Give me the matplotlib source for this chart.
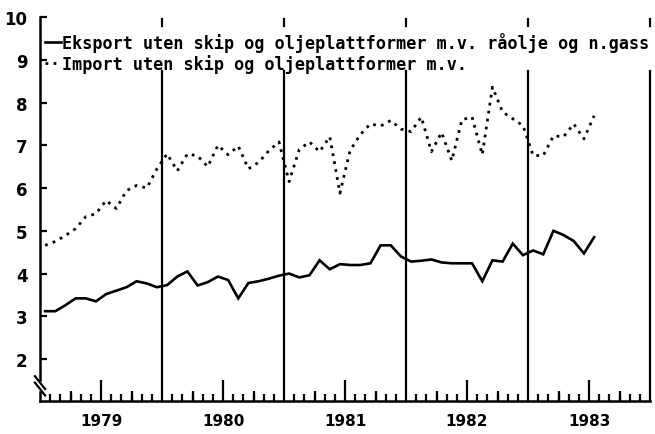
import numpy as np
import matplotlib.pyplot as plt

years = ['1979', '1980', '1981', '1982', '1983']
# monthly values, Jan 1979 - Jul 1983
export = [3.12, 3.12, 3.26, 3.42, 3.42, 3.35, 3.52, 3.60, 3.68, 3.82, 3.77, 3.68,
          3.73, 3.93, 4.05, 3.72, 3.80, 3.93, 3.85, 3.42, 3.78, 3.82, 3.88, 3.95,
          4.00, 3.91, 3.96, 4.31, 4.10, 4.22, 4.20, 4.20, 4.24, 4.66, 4.66, 4.40,
          4.28, 4.30, 4.33, 4.26, 4.24, 4.24, 4.24, 3.82, 4.31, 4.28, 4.70, 4.43,
          4.54, 4.45, 5.00, 4.90, 4.76, 4.47, 4.85]
imports = [4.66, 4.75, 4.89, 5.05, 5.33, 5.40, 5.71, 5.52, 5.94, 6.06, 6.00, 6.45,
           6.80, 6.40, 6.80, 6.75, 6.50, 7.00, 6.78, 6.98, 6.45, 6.60, 6.87, 7.08,
           6.15, 6.90, 7.08, 6.85, 7.20, 5.88, 6.88, 7.25, 7.50, 7.45, 7.58, 7.38,
           7.32, 7.66, 6.85, 7.30, 6.64, 7.60, 7.66, 6.78, 8.36, 7.78, 7.62, 7.46,
           6.76, 6.76, 7.22, 7.20, 7.50, 7.15, 7.69]
labels = ['Eksport uten skip og oljeplattformer m.v. råolje og n.gass',
          'Import uten skip og oljeplattformer m.v.']

t = np.arange(len(export)) + 0.5
nmonths = 12 * len(years)

fig = plt.figure(figsize=(6.55, 4.35), dpi=100)
ax = fig.add_axes([0.0611, 0.0759, 0.9313, 0.8827])

l1, = ax.plot(t, export, '-', color='k', lw=1.9, solid_joinstyle='miter')
l2, = ax.plot(t, imports, color='k', lw=2.0, linestyle=(0, (1.0, 1.9)))

ax.set_xlim(0, nmonths)
ax.set_ylim(1.02, 10)

# year separators, broken where the legend sits
for b in range(12, nmonths + 1, 12):
    ax.plot([b, b], [1.02, 8.74], color='k', lw=1.6, clip_on=False)
    ax.plot([b, b], [9.78, 9.96], color='k', lw=1.6, clip_on=False)

# left axis with a break
ax.plot([0, 0], [1.5, 10], color='k', lw=1.8, clip_on=False)
ax.plot([0, 0], [1.02, 1.22], color='k', lw=1.8, clip_on=False)
ax.plot([-0.5, 0.5], [1.6, 1.3], color='k', lw=1.6, clip_on=False)
ax.plot([-0.5, 0.5], [1.45, 1.15], color='k', lw=1.6, clip_on=False)

for s in ['top', 'right', 'left']:
    ax.spines[s].set_visible(False)
ax.spines['bottom'].set_linewidth(1.8)

ax.set_yticks(range(2, 11))
ax.tick_params(axis='y', direction='in', length=5, width=1.6, pad=9,
               labelsize=12)
for lab in ax.get_yticklabels():
    lab.set_fontweight('bold')

# month ticks: tall at mid-year (labelled), short elsewhere
ax.set_xticks(np.arange(6, nmonths, 12))
ax.set_xticklabels(years)
ax.set_xticks([m for m in range(1, nmonths) if m % 12 not in (0, 6)], minor=True)
ax.tick_params(axis='x', which='major', direction='in', length=15, width=1.6,
               pad=9, labelsize=11)
ax.tick_params(axis='x', which='minor', direction='in', length=5, width=1.6)
for lab in ax.get_xticklabels():
    lab.set_fontweight('bold')
ax.vlines([m for m in range(3, nmonths, 6) if m % 12 != 6 and m % 12 != 0],
          0, 0.025, transform=ax.get_xaxis_transform(), color='k', lw=1.6)

leg = ax.legend([l1, l2], labels, loc='upper left', bbox_to_anchor=(0.008, 0.962),
                frameon=False, handlelength=0.95, handletextpad=0.05,
                labelspacing=0.12, borderpad=0, borderaxespad=0,
                prop={'family': 'DejaVu Sans Mono', 'weight': 'bold', 'size': 12.1})

fig.savefig('out.png', dpi=100)
